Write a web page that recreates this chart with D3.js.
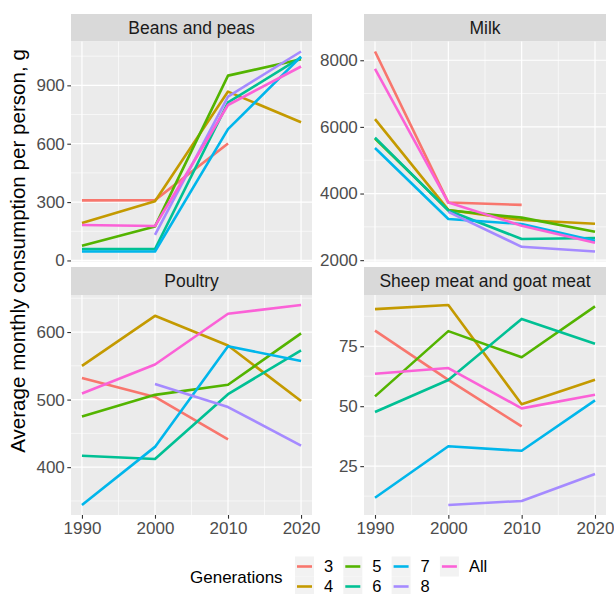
<!DOCTYPE html>
<html><head><meta charset="utf-8">
<script src="https://cdn.jsdelivr.net/npm/d3@7"></script>
<style>body{margin:0;background:#fff}svg{display:block}text{font-family:"Liberation Sans",Arial,sans-serif}</style>
</head><body><svg id="c" width="614" height="594"></svg>
<script>
const years = [1990, 2000, 2010, 2020];
const generations = ["3", "4", "5", "6", "7", "8", "All"];
const palette = ["#F8766D", "#C49A00", "#53B400", "#00C094", "#00B6EB", "#A58AFF", "#FB61D7"];
const panelTitles = ["Beans and peas", "Milk", "Poultry", "Sheep meat and goat meat"];

const beans = [
  [309, 310, 601, null],
  [192, 304, 868, 710],
  [76, 175, 950, 1034],
  [58, 58, 812, 1044],
  [46, 46, 675, 1048],
  [null, 132, 842, 1074],
  [182, 177, 799, 997]
];
const milk = [
  [8263, 3729, 3659, null],
  [6232, 3508, 3207, 3095],
  [5650, 3500, 3276, 2854],
  [5680, 3490, 2634, 2664],
  [5367, 3237, 3086, 2582],
  [null, 3450, 2401, 2260],
  [7741, 3729, 3035, 2522]
];
const poultry = [
  [532, 504, 441, null],
  [550, 624, 580, 498],
  [475, 507, 522, 598],
  [417, 412, 508, 573],
  [344, 430, 579, 557],
  [null, 523, 489, 432],
  [509, 552, 627, 640]
];
const sheep = [
  [81.5, 61, 41.6, null],
  [90.5, 92.2, 50.8, 61],
  [54.1, 81.3, 70.4, 91.6],
  [47.6, 60.9, 86.4, 76],
  [11.8, 33.3, 31.4, 52.4],
  [null, 8.8, 10.5, 21.7],
  [63.5, 65.9, 49.1, 54.8]
];
const yTicks = [[0, 300, 600, 900], [2000, 4000, 6000, 8000], [400, 500, 600], [25, 50, 75]];
const xTicks = [1990, 2000, 2010, 2020];
const yTitle = "Average monthly consumption per person, g";
const legendTitle = "Generations";

const panelData = [beans, milk, poultry, sheep];

const svg = d3.select("#c");
const cols = [[71, 312], [364, 606]];
const rows = [{s: 14, p0: 41.5, p1: 261.5}, {s: 267, p0: 295, p1: 515}];
const fontSize = 17;

const x0 = d3.extent(years);
const xpad = (x0[1] - x0[0]) * 0.05;

panelData.forEach((data, i) => {
  const c = cols[i % 2], r = rows[Math.floor(i / 2)];
  const x = d3.scaleLinear().domain([x0[0] - xpad, x0[1] + xpad]).range(c);
  const vals = data.flat().filter(v => v != null);
  const ext = d3.extent(vals);
  const yp = (ext[1] - ext[0]) * 0.05;
  const y = d3.scaleLinear().domain([ext[0] - yp, ext[1] + yp]).range([r.p1, r.p0]);
  const g = svg.append("g");
  g.append("rect").attr("x", c[0]).attr("y", r.s).attr("width", c[1] - c[0]).attr("height", r.p0 - r.s).attr("fill", "#D9D9D9");
  g.append("text").attr("x", (c[0] + c[1]) / 2).attr("y", (r.s + r.p0) / 2).attr("dy", "0.35em")
    .attr("text-anchor", "middle").attr("font-size", 17.5).attr("fill", "#1A1A1A").text(panelTitles[i]);
  g.append("rect").attr("x", c[0]).attr("y", r.p0).attr("width", c[1] - c[0]).attr("height", r.p1 - r.p0).attr("fill", "#EBEBEB");
  const yt = yTicks[i];
  const step = yt[1] - yt[0];
  const yd = y.domain();
  const minorY = [];
  for (let v = yt[0] - step / 2; v <= yd[1]; v += step) if (v >= yd[0]) minorY.push(v);
  const minorX = [];
  for (let k = 0; k < xTicks.length - 1; k++) minorX.push((xTicks[k] + xTicks[k + 1]) / 2);
  g.selectAll(".mny").data(minorY).join("line").attr("x1", c[0]).attr("x2", c[1])
    .attr("y1", d => y(d)).attr("y2", d => y(d)).attr("stroke", "#fff").attr("stroke-width", 0.6);
  g.selectAll(".mnx").data(minorX).join("line").attr("y1", r.p0).attr("y2", r.p1)
    .attr("x1", d => x(d)).attr("x2", d => x(d)).attr("stroke", "#fff").attr("stroke-width", 0.6);
  g.selectAll(".mjy").data(yt).join("line").attr("x1", c[0]).attr("x2", c[1])
    .attr("y1", d => y(d)).attr("y2", d => y(d)).attr("stroke", "#fff").attr("stroke-width", 1.2);
  g.selectAll(".mjx").data(xTicks).join("line").attr("y1", r.p0).attr("y2", r.p1)
    .attr("x1", d => x(d)).attr("x2", d => x(d)).attr("stroke", "#fff").attr("stroke-width", 1.2);
  const ya = g.append("g").attr("transform", `translate(${c[0]},0)`)
    .call(d3.axisLeft(y).tickValues(yt).tickSize(3.7).tickPadding(2.5).tickFormat(d3.format("d")));
  ya.select(".domain").remove();
  ya.selectAll("line").attr("stroke", "#333").attr("stroke-width", 1.1);
  ya.selectAll("text").attr("fill", "#4D4D4D").attr("font-size", fontSize).attr("font-family", "Liberation Sans, Arial, sans-serif");
  if (i >= 2) {
    const xa = g.append("g").attr("transform", `translate(0,${r.p1})`)
      .call(d3.axisBottom(x).tickValues(xTicks).tickSize(3.7).tickPadding(3).tickFormat(d3.format("d")));
    xa.select(".domain").remove();
    xa.selectAll("line").attr("stroke", "#333").attr("stroke-width", 1.1);
    xa.selectAll("text").attr("fill", "#4D4D4D").attr("font-size", fontSize).attr("font-family", "Liberation Sans, Arial, sans-serif");
  }
  const line = d3.line().defined(d => d[1] != null).x(d => x(d[0])).y(d => y(d[1]));
  data.forEach((s, k) => {
    g.append("path").datum(years.map((yr, j) => [yr, s[j]]))
      .attr("d", line).attr("fill", "none").attr("stroke", palette[k]).attr("stroke-width", 2.6)
      .attr("stroke-linejoin", "round");
  });
});

svg.append("text").attr("transform", "translate(18,251) rotate(-90)").attr("text-anchor", "middle")
  .attr("dy", "0.35em").attr("font-size", 20.6).attr("fill", "#000").text(yTitle);

const lg = svg.append("g");
lg.append("text").attr("x", 190).attr("y", 577).attr("dy", "0.35em").attr("font-size", 17).attr("fill", "#000").text(legendTitle);
const rowY = [566.5, 586.5];
generations.forEach((gname, k) => {
  const col = Math.floor(k / 2), row = k % 2;
  const kx = 295 + col * 48.3, ky = rowY[row];
  lg.append("rect").attr("x", kx).attr("y", ky - 10).attr("width", 19).attr("height", 20).attr("fill", "#F2F2F2");
  lg.append("line").attr("x1", kx + 2).attr("x2", kx + 17).attr("y1", ky).attr("y2", ky)
    .attr("stroke", palette[k]).attr("stroke-width", 2.6);
  lg.append("text").attr("x", kx + 29).attr("y", ky).attr("dy", "0.35em").attr("font-size", 16.5).attr("fill", "#000").text(gname);
});
</script></body></html>
